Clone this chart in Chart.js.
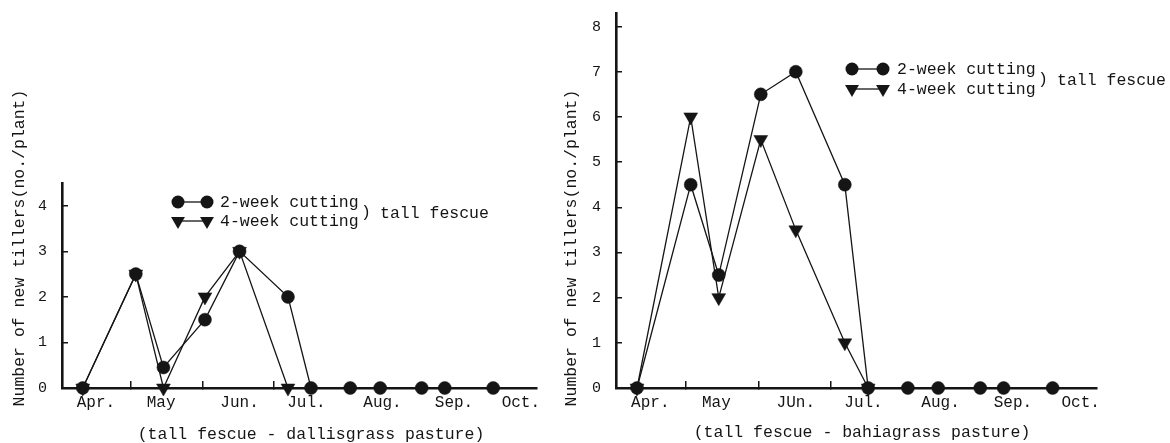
<!DOCTYPE html>
<html><head><meta charset="utf-8">
<script src="https://cdn.jsdelivr.net/npm/chart.js@4.4.1/dist/chart.umd.min.js"></script>
<style>
html,body{margin:0;padding:0;background:#fff;width:1170px;height:443px;overflow:hidden}
canvas{position:absolute;left:0;top:0}
</style></head><body>
<canvas id="c1" width="1170" height="443"></canvas>
<canvas id="c2" width="1170" height="443"></canvas>
<script>
// ---- data (x in days from 1 April) ----
const sampleDays = [9, 32, 44, 62, 77, 98, 108, 125, 138, 156, 166, 187];
const monthLabelsLeft = ['Apr.', 'May', 'Jun.', 'Jul.', 'Aug.', 'Sep.', 'Oct.'];
const monthLabelsRight = ['Apr.', 'May', 'JUn.', 'Jul.', 'Aug.', 'Sep.', 'Oct.'];
const monthLabelPos = [14.7, 43, 77, 106, 139, 170, 199];
const monthBounds = [30, 61, 92];
const yTicksLeft = [0, 1, 2, 3, 4];
const yTicksRight = [0, 1, 2, 3, 4, 5, 6, 7, 8];
const seriesNames = ['2-week cutting', '4-week cutting'];
const dallis2wk = [0, 2.5, 0.45, 1.5, 3, 2, 0, 0, 0, 0, 0, 0];
const dallis4wk = [0, 2.5, 0, 2, 3, 0];
const bahia2wk = [0, 4.5, 2.5, 6.5, 7, 4.5, 0, 0, 0, 0, 0, 0];
const bahia4wk = [0, 6, 2, 5.5, 3.5, 1, 0];
const yTitle = 'Number of new tillers(no./plant)';
const xTitleLeft = '(tall fescue - dallisgrass pasture)';
const xTitleRight = '(tall fescue - bahiagrass pasture)';
const groupName = 'tall fescue';

const INK = '#151515';
const FONT = 'Liberation Mono, DejaVu Sans Mono, monospace';

function drawMarker(ctx, style, x, y, r) {
  ctx.beginPath();
  if (style === 'circle') {
    ctx.arc(x, y, r, 0, Math.PI * 2);
  } else {
    const h = r * Math.sqrt(3) / 2;
    ctx.moveTo(x, y + r);
    ctx.lineTo(x - h, y - r / 2);
    ctx.lineTo(x + h, y - r / 2);
    ctx.closePath();
  }
  ctx.fill();
}

const deco = {
  id: 'deco',
  afterDraw(chart, args, o) {
    const ctx = chart.ctx;
    ctx.save();
    ctx.fillStyle = INK; ctx.strokeStyle = INK;
    ctx.font = '16.5px ' + FONT;
    // y title
    ctx.save();
    ctx.translate(o.yx, o.yy);
    ctx.rotate(-Math.PI / 2);
    ctx.textAlign = 'center'; ctx.textBaseline = 'middle';
    ctx.fillText(yTitle, 0, 0);
    ctx.restore();
    // x title
    ctx.textAlign = 'center'; ctx.textBaseline = 'middle';
    ctx.fillText(o.xt, o.xx, o.xy);
    // legend
    chart.data.datasets.forEach((ds, i) => {
      const y = o.ly + i * o.ldy;
      ctx.lineWidth = 1.3;
      ctx.beginPath(); ctx.moveTo(o.lx1, y); ctx.lineTo(o.lx2, y); ctx.stroke();
      drawMarker(ctx, ds.pointStyle, o.lx1, y, ds.pointRadius);
      drawMarker(ctx, ds.pointStyle, o.lx2, y, ds.pointRadius);
      ctx.textAlign = 'left'; ctx.textBaseline = 'middle';
      ctx.fillText(ds.label, o.tx, y + 1);
    });
    ctx.textAlign = 'left';
    ctx.fillText(')', o.bx, o.ly + o.ldy / 2 + 1);
    ctx.fillText(groupName, o.bx + 19, o.ly + o.ldy / 2 + 2);
    ctx.restore();
  }
};

function makeChart(id, s2, s4, yTicks, yMax, labels, pad, deco_opts) {
  const mk = (arr) => arr.map((v, i) => ({ x: sampleDays[i], y: v }));
  return new Chart(document.getElementById(id), {
    type: 'line',
    data: {
      datasets: [
        { label: seriesNames[0], data: mk(s2), borderColor: INK, backgroundColor: INK,
          pointBorderColor: INK, pointBackgroundColor: INK, borderWidth: 1.3,
          pointStyle: 'circle', pointRadius: 6.5, pointBorderWidth: 0.5, clip: false, tension: 0 },
        { label: seriesNames[1], data: mk(s4), borderColor: INK, backgroundColor: INK,
          pointBorderColor: INK, pointBackgroundColor: INK, borderWidth: 1.3,
          pointStyle: 'triangle', pointRotation: 180, pointRadius: 8, pointBorderWidth: 0.5, clip: false, tension: 0 }
      ]
    },
    options: {
      responsive: false, animation: false, events: [],
      devicePixelRatio: 1,
      layout: { padding: pad },
      plugins: { legend: { display: false }, tooltip: { enabled: false }, deco: deco_opts },
      scales: {
        x: {
          type: 'linear', min: 0, max: 206,
          afterBuildTicks: s => { s.ticks = monthLabelPos.concat(monthBounds).sort((a, b) => a - b).map(v => ({ value: v })); },
          afterFit: s => { s.height = 55; s.paddingLeft = 0; s.paddingRight = 0; },
          border: { display: true, color: INK, width: 2.6 },
          grid: { drawOnChartArea: false, drawTicks: true, tickLength: -7, lineWidth: 1.5,
                  color: c => (c.tick && monthBounds.includes(c.tick.value)) ? INK : 'rgba(0,0,0,0)' },
          ticks: { autoSkip: false, maxRotation: 0, minRotation: 0, padding: 12, color: INK,
                   font: { family: FONT, size: 16 },
                   callback: v => { const i = monthLabelPos.indexOf(v); return i >= 0 ? labels[i] : ''; } }
        },
        y: {
          min: 0, max: yMax,
          afterBuildTicks: s => { s.ticks = yTicks.map(v => ({ value: v })); },
          afterFit: s => { s.width = 62; s.paddingTop = 0; s.paddingBottom = 0; },
          border: { display: true, color: INK, width: 2.6 },
          grid: { drawOnChartArea: false, drawTicks: true, tickLength: -6, lineWidth: 1.5, color: INK },
          ticks: { padding: 21, color: INK, font: { family: FONT, size: 15 } }
        }
      }
    },
    plugins: [deco]
  });
}

makeChart('c1', dallis2wk, dallis4wk, yTicksLeft, 4.5, monthLabelsLeft,
  { left: 0, right: 633, top: 183, bottom: 0 },
  { yx: 20, yy: 248, xt: xTitleLeft, xx: 311, xy: 435,
    ly: 202, ldy: 19, lx1: 178, lx2: 207, tx: 220, bx: 361 });
makeChart('c2', bahia2wk, bahia4wk, yTicksRight, 8.3, monthLabelsRight,
  { left: 554, right: 73, top: 13, bottom: 0 },
  { yx: 572, yy: 248, xt: xTitleRight, xx: 862, xy: 433,
    ly: 69, ldy: 20, lx1: 852, lx2: 883, tx: 897, bx: 1038 });
</script>
</body></html>
